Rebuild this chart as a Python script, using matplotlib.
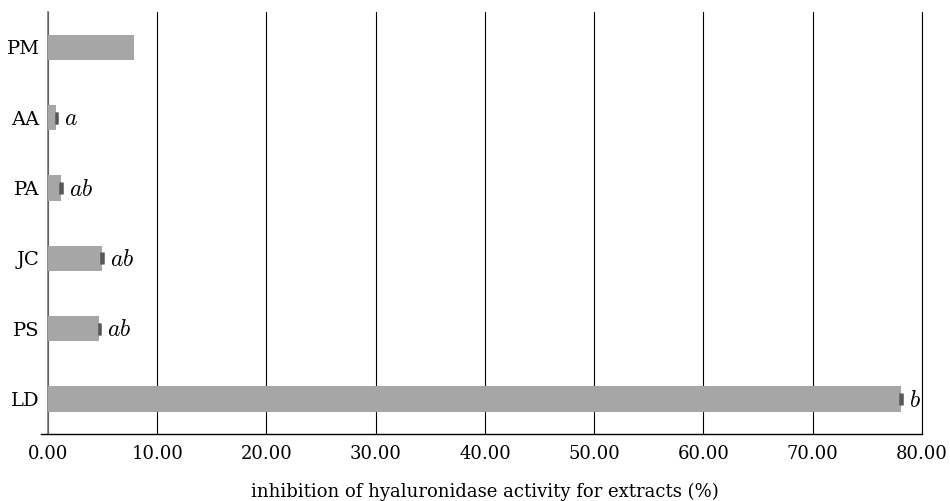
import matplotlib.pyplot as plt
from matplotlib.lines import Line2D

plt.rcParams["font.family"] = ["DejaVu Serif"]
plt.rcParams["mathtext.fontset"] = "cm"

samples = ["LD", "PS", "JC", "PA", "AA", "PM"]
inhibition = [78.1, 4.7, 4.95, 1.2, 0.75, 7.9]
errors = [0.08, 0.06, 0.06, 0.06, 0.06, 0.0]
letters = ["b", "ab", "ab", "ab", "a", ""]
xticks = [0, 10, 20, 30, 40, 50, 60, 70, 80]

fig = plt.figure(figsize=(9.5, 5.01), dpi=100)
ax = fig.add_axes([0.0505, 0.1337, 0.92, 0.8423])

pos = list(range(len(samples)))
ax.barh(pos, inhibition, height=0.36, color="#a6a6a6", zorder=3)
for p, v, e in zip(pos, inhibition, errors):
    if e > 0:
        ax.errorbar(v, p, xerr=e, fmt="none", ecolor="#555555", elinewidth=1.8,
                    capsize=4.5, capthick=1.8, zorder=4)
for p, v, e, t in zip(pos, inhibition, errors, letters):
    if t:
        ax.annotate("$" + t + "$", (v + e, p), xytext=(5, -1), textcoords="offset points",
                    ha="left", va="center", fontsize=17)

ax.set_xlim(0, 80)
ax.set_ylim(-0.5, 5.5)
ax.set_xticks(xticks)
ax.set_xticklabels(["%.2f" % x for x in xticks], fontsize=13)
ax.set_yticks(pos)
ax.set_yticklabels(samples, fontsize=14)
ax.tick_params(axis="both", length=0)
ax.tick_params(axis="y", pad=6)
ax.tick_params(axis="x", pad=8)
ax.grid(axis="x", color="black", linewidth=0.8, zorder=0)
ax.spines["top"].set_visible(False)
ax.spines["right"].set_color("black")
ax.spines["right"].set_linewidth(0.8)
ax.spines["left"].set_color("#777777")
ax.spines["left"].set_linewidth(1.2)
ax.spines["bottom"].set_visible(False)
ax.add_line(Line2D([-0.008, 1.0], [0, 0], transform=ax.transAxes, color="black",
                   linewidth=1.0, clip_on=False, zorder=5))
ax.set_xlabel("inhibition of hyaluronidase activity for extracts (%)", fontsize=13, labelpad=14)

fig.savefig("out.png", dpi=100)
